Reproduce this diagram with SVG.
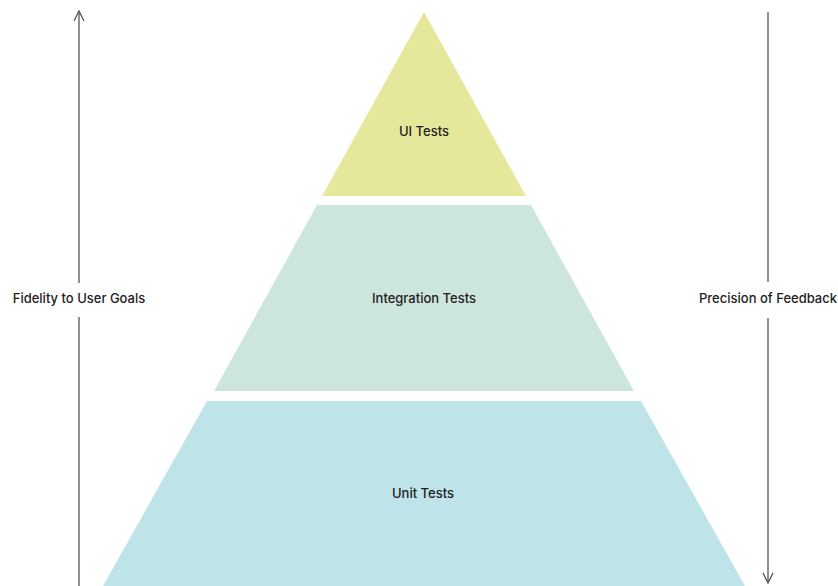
<svg xmlns="http://www.w3.org/2000/svg" width="838" height="586" viewBox="0 0 838 586">
<style>
.lbl{font-family:Inter,"Liberation Sans",Arial,sans-serif;font-size:13px;font-weight:500;fill:#222;text-anchor:middle;dominant-baseline:central}
.ax{stroke:#555;stroke-width:1.3;fill:none}
</style>
<defs>
<marker id="ah" viewBox="0 0 12 12" refX="11" refY="6" markerWidth="12" markerHeight="12" markerUnits="userSpaceOnUse" orient="auto">
<path d="M1,1 L11,6 L1,11" fill="none" stroke="#555" stroke-width="1.3"/>
</marker>
</defs>
<rect width="838" height="586" fill="#fff"/>
<g id="ui-tests">
<polygon points="424,12 526,196 322,196" fill="#E5E89B"/>
<text class="lbl" x="424" y="131">UI Tests</text>
</g>
<g id="integration-tests">
<polygon points="317,205 531,205 634,391 214,391" fill="#CCE6DD"/>
<text class="lbl" x="424" y="298">Integration Tests</text>
</g>
<g id="unit-tests">
<polygon points="207,401 641,401 745,586 103,586" fill="#BEE3E9"/>
<text class="lbl" x="423" y="493">Unit Tests</text>
</g>
<g id="fidelity">
<text class="lbl" x="79" y="298">Fidelity to User Goals</text>
</g>
<g id="precision">
<text class="lbl" x="768" y="298">Precision of Feedback</text>
</g>
<g id="connectors">
<line class="ax" x1="79" y1="283" x2="79" y2="11" marker-end="url(#ah)"/>
<line class="ax" x1="79" y1="317" x2="79" y2="586"/>
<line class="ax" x1="768" y1="12" x2="768" y2="282"/>
<line class="ax" x1="768" y1="318" x2="768" y2="583" marker-end="url(#ah)"/>
</g>
</svg>
